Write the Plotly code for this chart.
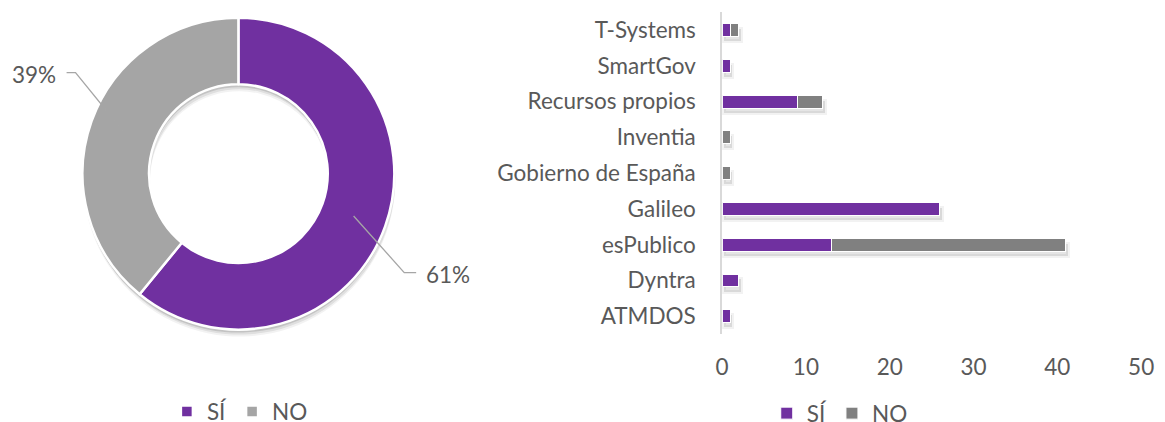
import plotly.graph_objects as go

# ---- data ----
categories = ["ATMDOS", "Dyntra", "esPublico", "Galileo", "Gobierno de España",
              "Inventia", "Recursos propios", "SmartGov", "T-Systems"]
si_values = [1, 2, 13, 26, 0, 0, 9, 1, 1]
no_values = [0, 0, 28, 0, 1, 1, 3, 0, 1]
series_names = ["SÍ", "NO"]
x_ticks = [0, 10, 20, 30, 40, 50]

donut_labels = series_names
donut_values = [sum(si_values), sum(no_values)]
bar_totals = [s + n for s, n in zip(si_values, no_values)]

# ---- style ----
PURPLE = "#7030A0"
GRAY_PIE = "#A5A5A5"
GRAY_BAR = "#808080"
TXT = "#595959"
FONT = "Lato"
FS = 22.5
W, H = 1165, 422      # reference frame; positions below are fractions of it
RW, RH = 1177, 435    # rendered figure size (photographed area)

fig = go.Figure()

# donut (with soft shadow copies underneath)
cx, cy, R = 233, 172, 157
HOLE = 0.573

def pie_domain(dx=0, dy=0):
    return dict(x=[(cx + dx - R) / W, (cx + dx + R) / W],
                y=[1 - (cy + dy + R) / H, 1 - (cy + dy - R) / H])

for dx, dy, a in [(1, 7, 0.05), (1, 5, 0.08), (0, 3, 0.12)]:
    fig.add_trace(go.Pie(
        labels=donut_labels, values=donut_values, hole=HOLE, sort=False,
        direction="clockwise", rotation=0,
        marker=dict(colors=[f"rgba(0,0,0,{a})"] * 2, line=dict(width=0)),
        textinfo="none", hoverinfo="skip", showlegend=False,
        domain=pie_domain(dx, dy),
    ))

fig.add_trace(go.Pie(
    labels=donut_labels, values=donut_values, hole=HOLE, sort=False,
    direction="clockwise", rotation=0,
    marker=dict(colors=[PURPLE, GRAY_PIE], line=dict(color="white", width=2.5)),
    textinfo="none", hoverinfo="label+percent",
    domain=pie_domain(), legend="legend", showlegend=True,
))

# bar shadows (on hidden, slightly shifted axes)
fig.add_trace(go.Bar(y=categories, x=bar_totals, orientation="h", showlegend=False,
                     hoverinfo="skip", width=0.34,
                     marker=dict(color="rgba(0,0,0,0.10)",
                                 line=dict(color="rgba(0,0,0,0.05)", width=4)),
                     xaxis="x", yaxis="y"))

# stacked bars
fig.add_trace(go.Bar(y=categories, x=si_values, orientation="h", name=series_names[0],
                     marker=dict(color=PURPLE, line=dict(color="white", width=1)),
                     xaxis="x2", yaxis="y2", legend="legend2"))
fig.add_trace(go.Bar(y=categories, x=no_values, orientation="h", name=series_names[1],
                     marker=dict(color=GRAY_BAR, line=dict(color="white", width=1)),
                     xaxis="x2", yaxis="y2", legend="legend2"))

# percentage labels with leader lines
total = sum(donut_values)
pcts = [round(v / total * 100) for v in donut_values]
fig.add_annotation(x=420 / W, y=1 - 272 / H, xref="paper", yref="paper",
                   text=f"{pcts[0]}%", showarrow=False, xanchor="left", yanchor="middle",
                   font=dict(family=FONT, size=FS, color=TXT))
fig.add_annotation(x=51 / W, y=1 - 74 / H, xref="paper", yref="paper",
                   text=f"{pcts[1]}%", showarrow=False, xanchor="right", yanchor="middle",
                   font=dict(family=FONT, size=FS, color=TXT))

def px_path(pts):
    return "M " + " L ".join(f"{x / W} {1 - y / H}" for x, y in pts)

fig.add_shape(type="path", xref="paper", yref="paper",
              path=px_path([(349, 214), (400, 270), (412, 270)]),
              line=dict(color="#A6A6A6", width=1.3))
fig.add_shape(type="path", xref="paper", yref="paper",
              path=px_path([(117, 130), (69, 72), (60, 72)]),
              line=dict(color="#A6A6A6", width=1.3))

# bar plot geometry
X0, X1 = 720, 1142          # px of x=0 and x=50
Y0, Y1 = 12, 331            # px top / bottom of category band
xmax = x_ticks[-1]
ppu_x = (X1 - X0) / xmax
ppu_y = (Y1 - Y0) / len(categories)
sh_dx, sh_dy = 2, 5         # shadow offset in px

leg = dict(orientation="h", xanchor="left", yanchor="middle", bgcolor="rgba(0,0,0,0)",
           traceorder="normal", font=dict(size=FS, color=TXT))
fig.update_layout(
    width=RW, height=RH, margin=dict(l=0, r=0, t=0, b=0),
    paper_bgcolor="white", plot_bgcolor="rgba(0,0,0,0)",
    font=dict(family=FONT, size=FS, color=TXT),
    barmode="stack", bargap=0.64,
    xaxis=dict(domain=[X0 / W, X1 / W], range=[-sh_dx / ppu_x, xmax - sh_dx / ppu_x],
               visible=False, anchor="y"),
    yaxis=dict(domain=[1 - Y1 / H, 1 - Y0 / H], visible=False, anchor="x",
               type="category", categoryorder="array", categoryarray=categories,
               range=[-0.5 + sh_dy / ppu_y, len(categories) - 0.5 + sh_dy / ppu_y]),
    xaxis2=dict(overlaying="x", anchor="y2", range=[0, xmax], tickvals=x_ticks,
                showgrid=False, zeroline=False, showline=False, ticks="",
                ticklabelstandoff=17, tickfont=dict(size=FS, color=TXT)),
    yaxis2=dict(overlaying="y", anchor="x2", showgrid=False, zeroline=False,
                showline=True, linecolor="#D9D9D9", linewidth=1.5, ticks="",
                ticklabelstandoff=20, tickfont=dict(size=FS, color=TXT),
                type="category", categoryorder="array", categoryarray=categories,
                range=[-0.5, len(categories) - 0.5]),
    legend=dict(leg, x=161 / W, y=1 - 408 / H),
    legend2=dict(leg, x=765 / W, y=1 - 410 / H),
)

post = (
    "document.documentElement.style.margin='0';"
    "document.body.style.margin='0';"
    "document.documentElement.style.overflow='hidden';"
    "document.body.style.overflow='hidden';"
)

fig.write_html("out.html", config={"displayModeBar": False}, post_script=post)
